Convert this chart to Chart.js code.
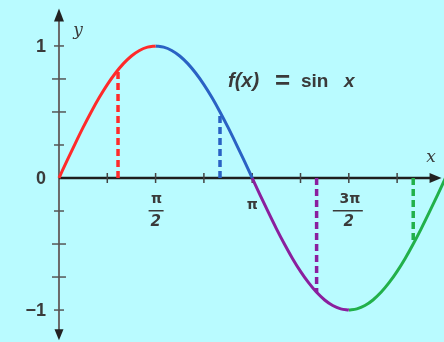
<!DOCTYPE html>
<html>
<head>
<meta charset="utf-8">
<script src="https://cdn.jsdelivr.net/npm/chart.js@4"></script>
<style>
html,body{margin:0;padding:0;background:#b9fbff;}
#wrap{width:444px;height:342px;position:relative;}
canvas{display:block;}
</style>
</head>
<body>
<div id="wrap"><canvas id="c"></canvas></div>
<script>
const PI = Math.PI;
// curve samples, x in steps of pi/24
const curveSteps = [0,1,2,3,4,5,6,7,8,9,10,11,12,13,14,15,16,17,18,19,20,21,22,23,24,25,26,27,28,29,30,31,32,33,34,35,36,37,38,39,40,41,42,43,44,45,46,47,48];
const curveValues = [0,0.131,0.259,0.383,0.5,0.609,0.707,0.793,0.866,0.924,0.966,0.991,1,
  0.991,0.966,0.924,0.866,0.793,0.707,0.609,0.5,0.383,0.259,0.131,0,
  -0.131,-0.259,-0.383,-0.5,-0.609,-0.707,-0.793,-0.866,-0.924,-0.966,-0.991,-1,
  -0.991,-0.966,-0.924,-0.866,-0.793,-0.707,-0.609,-0.5,-0.383,-0.259,-0.131,0];
const segmentNames = ['red','blue','purple','green'];
const segmentColors = ['#ff2a2a','#2a62c4','#8a1f9e','#22b04a'];
const segmentRanges = [[0,12],[12,24],[24,36],[36,48]];
// dashed drop lines
const dropX = [0.96, 5*PI/6, 4*PI/3, 11*PI/6];
const dropY = [0.82, 0.5, -0.866, -0.5];
// ticks
const xTickValues = [PI/4,PI/2,3*PI/4,PI,5*PI/4,3*PI/2,7*PI/4];
const yTickValues = [1,0.75,0.5,0.25,-0.25,-0.5,-0.75,-1];
const yTickLabels = ['1','0','\u22121'];
const yTickLabelValues = [1,0,-1];
const xTickLabelValues = [PI/2, PI, 3*PI/2];
const xTickNumerators = ['\u03C0','\u03C0','3\u03C0'];
const xTickDenominators = ['2','','2'];
const funcLabelParts = ['f(x)','=','sin','x'];

const datasets = [];
segmentRanges.forEach((r,i)=>{
  const d=[];
  for(let k=r[0];k<=r[1];k++) d.push({x:curveSteps[k]*PI/24, y:curveValues[k]});
  datasets.push({label:segmentNames[i],data:d,showLine:true,borderColor:segmentColors[i],borderWidth:3,pointRadius:0,cubicInterpolationMode:'monotone',fill:false});
});
dropX.forEach((x,i)=>{
  datasets.push({label:'drop'+i,data:[{x:x,y:0},{x:x,y:dropY[i]}],showLine:true,borderColor:segmentColors[i],borderWidth:3.5,borderDash:[7,4],pointRadius:0,fill:false});
});

const axesPlugin = {
  id:'axes',
  beforeDatasetsDraw(chart){
    const ctx=chart.ctx, xs=chart.scales.x, ys=chart.scales.y;
    const x0=xs.getPixelForValue(0), y0=ys.getPixelForValue(0);
    ctx.save();
    ctx.strokeStyle='#6a6a6a'; ctx.lineWidth=2;
    ctx.beginPath(); ctx.moveTo(x0, ys.getPixelForValue(1.22)); ctx.lineTo(x0, ys.getPixelForValue(-1.17)); ctx.stroke();
    ctx.strokeStyle='#1e1e1e'; ctx.lineWidth=2.5;
    ctx.beginPath(); ctx.moveTo(x0, y0); ctx.lineTo(xs.getPixelForValue(6.12), y0); ctx.stroke();
    ctx.strokeStyle='#444'; ctx.lineWidth=1.5;
    xTickValues.forEach(v=>{const p=xs.getPixelForValue(v); ctx.beginPath(); ctx.moveTo(p,y0-5); ctx.lineTo(p,y0+5); ctx.stroke();});
    ctx.strokeStyle='#555';
    yTickValues.forEach(v=>{const p=ys.getPixelForValue(v); const w=(Math.abs(v)===0.5||Math.abs(v)===0.75)?7:5; ctx.beginPath(); ctx.moveTo(x0-w,p); ctx.lineTo(x0+w,p); ctx.stroke();});
    ctx.fillStyle='#222';
    const yt=ys.getPixelForValue(1.26);
    ctx.beginPath(); ctx.moveTo(x0,yt-3); ctx.lineTo(x0-5,yt+10); ctx.lineTo(x0+5,yt+10); ctx.closePath(); ctx.fill();
    const yb=ys.getPixelForValue(-1.19);
    ctx.beginPath(); ctx.moveTo(x0,yb+5); ctx.lineTo(x0-4.5,yb-6); ctx.lineTo(x0+4.5,yb-6); ctx.closePath(); ctx.fill();
    const xr=xs.getPixelForValue(6.22);
    ctx.beginPath(); ctx.moveTo(xr,y0); ctx.lineTo(xr-12,y0-5); ctx.lineTo(xr-12,y0+5); ctx.closePath(); ctx.fill();
    ctx.restore();
  },
  afterDraw(chart){
    const ctx=chart.ctx, xs=chart.scales.x, ys=chart.scales.y;
    const x0=xs.getPixelForValue(0), y0=ys.getPixelForValue(0);
    ctx.save();
    ctx.fillStyle='#3a3a3a';
    ctx.textBaseline='middle';
    ctx.textAlign='right';
    ctx.font='bold 18px "Liberation Sans", Arial, sans-serif';
    yTickLabels.forEach((t,i)=>{ctx.fillText(t, x0-13, ys.getPixelForValue(yTickLabelValues[i])+1);});
    ctx.textAlign='center';
    xTickLabelValues.forEach((v,i)=>{
      const p=xs.getPixelForValue(v);
      if(xTickDenominators[i]){
        ctx.font='bold 14px "DejaVu Sans", sans-serif';
        ctx.fillText(xTickNumerators[i], p+1, y0+21);
        ctx.fillRect(p-(xTickNumerators[i].length>1?16:7), y0+32, xTickNumerators[i].length>1?30:15, 1.5);
        ctx.font='italic bold 15px "DejaVu Sans", sans-serif';
        ctx.fillText(xTickDenominators[i], p, y0+44);
      } else {
        ctx.font='bold 14px "DejaVu Sans", sans-serif';
        ctx.fillText(xTickNumerators[i], p, y0+27);
      }
    });
    ctx.font='italic 17px "DejaVu Serif", serif';
    ctx.fillText('y', x0+19, ys.getPixelForValue(1.12));
    ctx.fillText('x', xs.getPixelForValue(6.05), y0-20);
    // function label
    ctx.textAlign='left';
    const fy = ys.getPixelForValue(0.73);
    ctx.font='italic bold 20px "Liberation Sans", Arial, sans-serif';
    ctx.fillText(funcLabelParts[0], 228, fy);
    ctx.font='bold 26px "Liberation Sans", Arial, sans-serif';
    ctx.fillText(funcLabelParts[1], 275, fy);
    ctx.font='bold 19px "Liberation Sans", Arial, sans-serif';
    ctx.fillText(funcLabelParts[2], 301, fy);
    ctx.font='italic bold 19px "Liberation Sans", Arial, sans-serif';
    ctx.fillText(funcLabelParts[3], 344, fy);
    ctx.restore();
  }
};

new Chart(document.getElementById('c'),{
  type:'scatter',
  data:{datasets:datasets},
  options:{
    responsive:true, maintainAspectRatio:false, animation:false,
    layout:{padding:0},
    plugins:{legend:{display:false},tooltip:{enabled:false}},
    scales:{
      x:{type:'linear',display:false,min:-0.959,max:6.26},
      y:{type:'linear',display:false,min:-1.242,max:1.348}
    }
  },
  plugins:[axesPlugin]
});
</script>
</body>
</html>
